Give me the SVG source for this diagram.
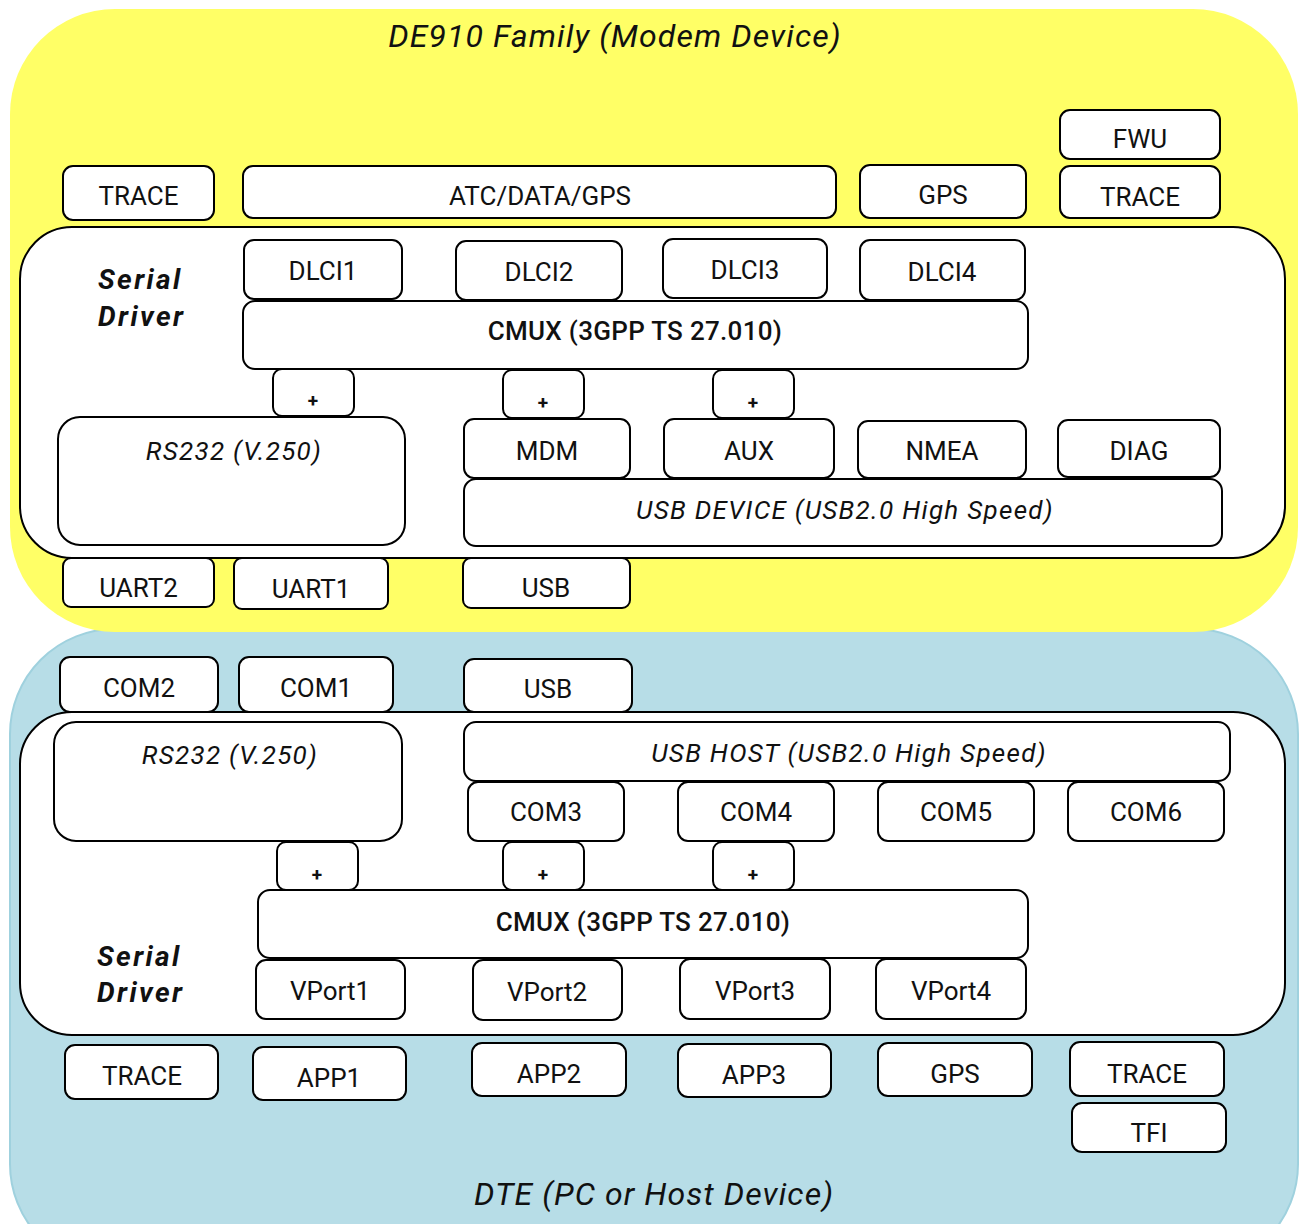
<svg xmlns="http://www.w3.org/2000/svg" width="1302" height="1224" viewBox="0 0 1302 1224">
<style>
.b{fill:#fff;stroke:#000;stroke-width:2}
.sd{fill:#fff;stroke:#000;stroke-width:2}
.t{font-family:Roboto,"Liberation Sans",sans-serif;font-size:26px;fill:#111;text-anchor:middle}
.i{font-family:Roboto,"Liberation Sans",sans-serif;font-style:italic;font-size:26px;fill:#111;text-anchor:middle;letter-spacing:1.3px}
.m{font-family:Roboto,"Liberation Sans",sans-serif;font-weight:500;font-size:26px;fill:#111;text-anchor:middle;letter-spacing:0.3px}
.p{font-family:Roboto,"Liberation Sans",sans-serif;font-weight:700;font-size:19px;fill:#111;text-anchor:middle}
.s{font-family:Roboto,"Liberation Sans",sans-serif;font-weight:700;font-style:italic;font-size:28px;fill:#111;letter-spacing:2.4px}
.h{font-family:Roboto,"Liberation Sans",sans-serif;font-style:italic;font-size:32px;fill:#111;text-anchor:middle;letter-spacing:1.1px}
</style>
<rect width="1302" height="1224" fill="#fff"/>
<g id="dte">
<rect x="10" y="629" width="1288" height="640" rx="105" fill="#b7dde7" stroke="#9fd1de" stroke-width="2"/>
<text class="h" x="654" y="1205">DTE (PC or Host Device)</text>
</g>
<g id="modem">
<rect x="10" y="9" width="1288" height="623" rx="105" fill="#ffff66"/>
<text class="h" x="615" y="47">DE910 Family (Modem Device)</text>
</g>
<g id="serial-driver-top">
<rect class="sd" x="20" y="227" width="1265" height="331" rx="52"/>
<text class="s" x="98" y="289">Serial</text>
<text class="s" x="98" y="326">Driver</text>
</g>
<g id="serial-driver-bottom">
<rect class="sd" x="20" y="712" width="1265" height="323" rx="52"/>
<text class="s" x="97" y="966">Serial</text>
<text class="s" x="97" y="1002">Driver</text>
</g>
<g id="connectors"></g>
<!-- top nodes -->
<g id="trace-m1"><rect class="b" x="63" y="166" width="151" height="54" rx="10"/><text class="t" x="138.5" y="205">TRACE</text></g>
<g id="atc"><rect class="b" x="243" y="166" width="593" height="52" rx="10"/><text class="t" x="540" y="205">ATC/DATA/GPS</text></g>
<g id="gps-m"><rect class="b" x="860" y="165" width="166" height="53" rx="10"/><text class="t" x="943" y="204">GPS</text></g>
<g id="fwu"><rect class="b" x="1060" y="110" width="160" height="49" rx="10"/><text class="t" x="1140" y="148">FWU</text></g>
<g id="trace-m2"><rect class="b" x="1060" y="166" width="160" height="52" rx="10"/><text class="t" x="1140" y="206">TRACE</text></g>
<g id="dlci1"><rect class="b" x="244" y="240" width="158" height="59" rx="10"/><text class="t" x="323" y="280">DLCI1</text></g>
<g id="dlci2"><rect class="b" x="456" y="241" width="166" height="59" rx="10"/><text class="t" x="539" y="281">DLCI2</text></g>
<g id="dlci3"><rect class="b" x="663" y="239" width="164" height="59" rx="10"/><text class="t" x="745" y="279">DLCI3</text></g>
<g id="dlci4"><rect class="b" x="860" y="240" width="165" height="60" rx="10"/><text class="t" x="942" y="281">DLCI4</text></g>
<g id="cmux-m"><rect class="b" x="243" y="301" width="785" height="68" rx="12"/><text class="m" x="635" y="340">CMUX (3GPP TS 27.010)</text></g>
<g id="plus-m1"><rect class="b" x="273" y="369" width="81" height="47" rx="9"/><text class="p" x="313" y="407">+</text></g>
<g id="plus-m2"><rect class="b" x="503" y="370" width="81" height="48" rx="9"/><text class="p" x="543" y="409">+</text></g>
<g id="plus-m3"><rect class="b" x="713" y="370" width="81" height="48" rx="9"/><text class="p" x="753" y="409">+</text></g>
<g id="rs232-m"><rect class="b" x="58" y="417" width="347" height="128" rx="22"/><text class="i" x="234" y="460">RS232 (V.250)</text></g>
<g id="mdm"><rect class="b" x="464" y="419" width="166" height="59" rx="10"/><text class="t" x="547" y="460">MDM</text></g>
<g id="aux"><rect class="b" x="664" y="419" width="170" height="59" rx="10"/><text class="t" x="749" y="460">AUX</text></g>
<g id="nmea"><rect class="b" x="858" y="421" width="168" height="57" rx="10"/><text class="t" x="942" y="460">NMEA</text></g>
<g id="diag"><rect class="b" x="1058" y="420" width="162" height="57" rx="10"/><text class="t" x="1139" y="460">DIAG</text></g>
<g id="usb-device"><rect class="b" x="464" y="479" width="758" height="67" rx="12"/><text class="i" x="845" y="519">USB DEVICE (USB2.0 High Speed)</text></g>
<g id="uart2"><rect class="b" x="63" y="558" width="151" height="49" rx="8"/><text class="t" x="138.5" y="597">UART2</text></g>
<g id="uart1"><rect class="b" x="234" y="558" width="154" height="51" rx="8"/><text class="t" x="311" y="598">UART1</text></g>
<g id="usb-m"><rect class="b" x="463" y="558" width="167" height="50" rx="8"/><text class="t" x="546" y="597">USB</text></g>
<!-- bottom nodes -->
<g id="com2"><rect class="b" x="60" y="657" width="158" height="55" rx="10"/><text class="t" x="139" y="697">COM2</text></g>
<g id="com1"><rect class="b" x="239" y="657" width="154" height="55" rx="10"/><text class="t" x="316" y="697">COM1</text></g>
<g id="usb-d"><rect class="b" x="464" y="659" width="168" height="53" rx="10"/><text class="t" x="548" y="698">USB</text></g>
<g id="rs232-d"><rect class="b" x="54" y="722" width="348" height="119" rx="22"/><text class="i" x="230" y="764">RS232 (V.250)</text></g>
<g id="usb-host"><rect class="b" x="464" y="722" width="766" height="59" rx="12"/><text class="i" x="849" y="762">USB HOST (USB2.0 High Speed)</text></g>
<g id="com3"><rect class="b" x="468" y="782" width="156" height="59" rx="10"/><text class="t" x="546" y="821">COM3</text></g>
<g id="com4"><rect class="b" x="678" y="782" width="156" height="59" rx="10"/><text class="t" x="756" y="821">COM4</text></g>
<g id="com5"><rect class="b" x="878" y="782" width="156" height="59" rx="10"/><text class="t" x="956" y="821">COM5</text></g>
<g id="com6"><rect class="b" x="1068" y="782" width="156" height="59" rx="10"/><text class="t" x="1146" y="821">COM6</text></g>
<g id="plus-d1"><rect class="b" x="277" y="842" width="81" height="48" rx="9"/><text class="p" x="317" y="881">+</text></g>
<g id="plus-d2"><rect class="b" x="503" y="842" width="81" height="48" rx="9"/><text class="p" x="543" y="881">+</text></g>
<g id="plus-d3"><rect class="b" x="713" y="842" width="81" height="48" rx="9"/><text class="p" x="753" y="881">+</text></g>
<g id="cmux-d"><rect class="b" x="258" y="890" width="770" height="68" rx="12"/><text class="m" x="643" y="931">CMUX (3GPP TS 27.010)</text></g>
<g id="vport1"><rect class="b" x="256" y="960" width="149" height="59" rx="10"/><text class="t" x="330" y="1000">VPort1</text></g>
<g id="vport2"><rect class="b" x="473" y="960" width="149" height="60" rx="10"/><text class="t" x="547" y="1001">VPort2</text></g>
<g id="vport3"><rect class="b" x="680" y="959" width="150" height="60" rx="10"/><text class="t" x="755" y="1000">VPort3</text></g>
<g id="vport4"><rect class="b" x="876" y="959" width="150" height="60" rx="10"/><text class="t" x="951" y="1000">VPort4</text></g>
<g id="trace-d1"><rect class="b" x="65" y="1045" width="153" height="54" rx="10"/><text class="t" x="142" y="1085">TRACE</text></g>
<g id="app1"><rect class="b" x="253" y="1047" width="153" height="53" rx="10"/><text class="t" x="329" y="1087">APP1</text></g>
<g id="app2"><rect class="b" x="472" y="1043" width="154" height="53" rx="10"/><text class="t" x="549" y="1083">APP2</text></g>
<g id="app3"><rect class="b" x="678" y="1044" width="153" height="53" rx="10"/><text class="t" x="754" y="1084">APP3</text></g>
<g id="gps-d"><rect class="b" x="878" y="1043" width="154" height="53" rx="10"/><text class="t" x="955" y="1083">GPS</text></g>
<g id="trace-d2"><rect class="b" x="1070" y="1042" width="154" height="54" rx="10"/><text class="t" x="1147" y="1083">TRACE</text></g>
<g id="tfi"><rect class="b" x="1072" y="1103" width="154" height="49" rx="10"/><text class="t" x="1149" y="1142">TFI</text></g>
</svg>
